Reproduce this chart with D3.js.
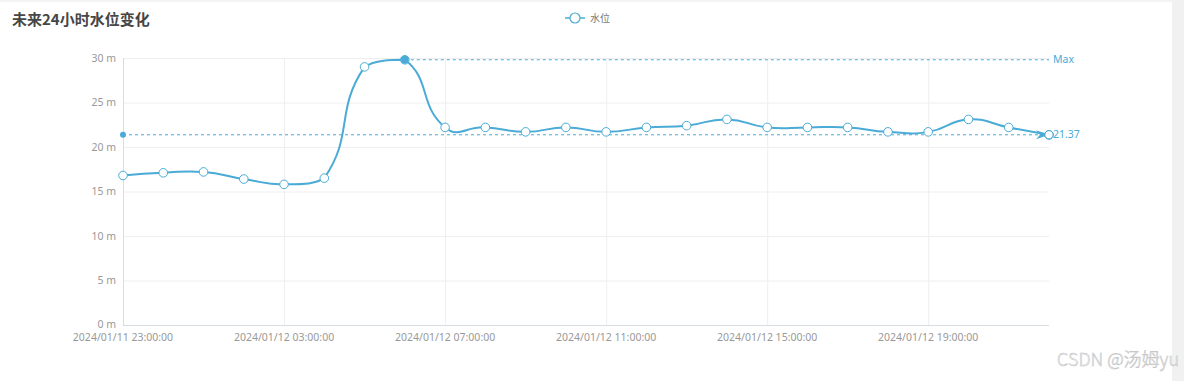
<!DOCTYPE html>
<html>
<head>
<meta charset="utf-8">
<script src="https://cdn.jsdelivr.net/npm/d3@7/dist/d3.min.js"></script>
<style>
  html, body { margin: 0; padding: 0; background: #fff; }
  svg { display: block; }
</style>
</head>
<body>
<svg id="chart" width="1184" height="381"></svg>
<script>
// ---- data ----
const categories = [
  "2024/01/11 23:00:00", "2024/01/12 00:00:00", "2024/01/12 01:00:00", "2024/01/12 02:00:00",
  "2024/01/12 03:00:00", "2024/01/12 04:00:00", "2024/01/12 05:00:00", "2024/01/12 06:00:00",
  "2024/01/12 07:00:00", "2024/01/12 08:00:00", "2024/01/12 09:00:00", "2024/01/12 10:00:00",
  "2024/01/12 11:00:00", "2024/01/12 12:00:00", "2024/01/12 13:00:00", "2024/01/12 14:00:00",
  "2024/01/12 15:00:00", "2024/01/12 16:00:00", "2024/01/12 17:00:00", "2024/01/12 18:00:00",
  "2024/01/12 19:00:00", "2024/01/12 20:00:00", "2024/01/12 21:00:00", "2024/01/12 22:00:00"
];
const waterLevel = [
  16.8, 17.1, 17.2, 16.4, 15.8, 16.5, 29.0, 29.8,
  22.2, 22.2, 21.7, 22.2, 21.7, 22.2, 22.4, 23.1,
  22.2, 22.2, 22.2, 21.7, 21.7, 23.1, 22.2, 21.37
];
const yTicks = [0, 5, 10, 15, 20, 25, 30];
const seriesName = "水位";
const titleText = "未来24小时水位变化";

(function () {
// ---- layout ----
const svg = d3.select("#chart");
const W = 1184, H = 381;
const pL = 123, pR = 1049, pT = 58, pB = 325;
const color = "#4aabd6";
const labelColor = "#999";
const font = "'Noto Sans', 'Microsoft YaHei', sans-serif";

// page decorations
svg.append("rect").attr("x", 1172).attr("y", 0).attr("width", 12).attr("height", H).attr("fill", "#f1f1f1");
svg.append("rect").attr("x", 0).attr("y", 0).attr("width", 1172).attr("height", 2).attr("fill", "#f4f4f4");

const x = d3.scalePoint().domain(categories).range([pL, pR]);
const y = d3.scaleLinear().domain([0, 30]).range([pB, pT]);

// horizontal grid
svg.append("g").selectAll("line").data(yTicks.filter(d => d > 0)).join("line")
  .attr("x1", pL).attr("x2", pR)
  .attr("y1", d => y(d) + 0.5).attr("y2", d => y(d) + 0.5)
  .attr("stroke", "#eeeeee").attr("stroke-width", 1);

// vertical grid at labeled categories
const labeled = categories.filter((d, i) => i % 4 === 0);
svg.append("g").selectAll("line").data(labeled.slice(1)).join("line")
  .attr("x1", d => x(d) + 0.5).attr("x2", d => x(d) + 0.5)
  .attr("y1", pT).attr("y2", pB)
  .attr("stroke", "#eeeeee").attr("stroke-width", 1);

// axes lines
svg.append("line").attr("x1", pL + 0.5).attr("x2", pL + 0.5).attr("y1", pT).attr("y2", pB)
  .attr("stroke", "#d6dde3").attr("stroke-width", 1);
svg.append("line").attr("x1", pL).attr("x2", pR).attr("y1", pB + 0.5).attr("y2", pB + 0.5)
  .attr("stroke", "#d6dde3").attr("stroke-width", 1);

// y labels
svg.append("g").selectAll("text").data(yTicks).join("text")
  .attr("x", pL - 7).attr("y", d => y(d) - (d === 0 ? 1 : 0))
  .attr("dy", "0.35em").attr("text-anchor", "end")
  .attr("font-family", font).attr("font-size", 10.5).attr("fill", labelColor)
  .text(d => d + " m");

// x labels
svg.append("g").selectAll("text").data(labeled).join("text")
  .attr("x", d => x(d)).attr("y", pB + 12)
  .attr("dy", "0.35em").attr("text-anchor", "middle")
  .attr("font-family", font).attr("font-size", 10.5).attr("fill", labelColor)
  .text(d => d);

// title
svg.append("text").attr("x", 12).attr("y", 20).attr("dy", "0.35em")
  .attr("font-family", "'Noto Sans CJK SC', sans-serif").attr("font-weight", "bold")
  .attr("font-size", 15).attr("fill", "#464646").text(titleText);

// legend
const lgx = 575, lgy = 18;
svg.append("line").attr("x1", lgx - 10).attr("x2", lgx + 10).attr("y1", lgy).attr("y2", lgy)
  .attr("stroke", color).attr("stroke-width", 1.5);
svg.append("circle").attr("cx", lgx).attr("cy", lgy).attr("r", 5)
  .attr("fill", "#fff").attr("stroke", color).attr("stroke-width", 1.2);
svg.append("text").attr("x", lgx + 15).attr("y", lgy).attr("dy", "0.35em")
  .attr("font-family", "'Noto Sans CJK SC', sans-serif").attr("font-size", 10).attr("fill", "#777")
  .text(seriesName);

// ECharts-4 style smooth curve
function EchartsSmooth(context) { this._context = context; }
EchartsSmooth.prototype = {
  areaStart() {}, areaEnd() {},
  lineStart() { this._pts = []; },
  point(px, py) { this._pts.push([+px, +py]); },
  lineEnd() {
    const p = this._pts, c = this._context, s = 0.5;
    if (!p.length) return;
    const minX = d3.min(p, d => d[0]), maxX = d3.max(p, d => d[0]);
    const minY = d3.min(p, d => d[1]), maxY = d3.max(p, d => d[1]);
    const clamp = q => [Math.max(minX, Math.min(maxX, q[0])), Math.max(minY, Math.min(maxY, q[1]))];
    c.moveTo(p[0][0], p[0][1]);
    let cp0 = p[0].slice();
    let v = [0, 0];
    for (let i = 1; i < p.length; i++) {
      const cur = p[i], prev = p[i - 1], next = p[i + 1];
      let cp1, ratio = 0.5;
      if (!next) {
        cp1 = cur.slice();
      } else {
        v = [next[0] - prev[0], next[1] - prev[1]];
        const l0 = Math.hypot(cur[0] - prev[0], cur[1] - prev[1]);
        const l1 = Math.hypot(next[0] - cur[0], next[1] - cur[1]);
        ratio = l1 / (l0 + l1);
        cp1 = [cur[0] - v[0] * s * (1 - ratio), cur[1] - v[1] * s * (1 - ratio)];
      }
      cp0 = clamp(cp0); cp1 = clamp(cp1);
      c.bezierCurveTo(cp0[0], cp0[1], cp1[0], cp1[1], cur[0], cur[1]);
      cp0 = [cur[0] + v[0] * s * ratio, cur[1] + v[1] * s * ratio];
    }
  }
};
const smoothCurve = ctx => new EchartsSmooth(ctx);

const data = categories.map((c, i) => ({ c, v: waterLevel[i] }));
const line = d3.line().x(d => x(d.c)).y(d => y(d.v)).curve(smoothCurve);

svg.append("path").datum(data).attr("d", line)
  .attr("fill", "none").attr("stroke", color).attr("stroke-width", 2);

// mark lines
const meanVal = d3.mean(waterLevel);
const maxIdx = d3.maxIndex(waterLevel);
const maxVal = waterLevel[maxIdx];
const mk = svg.append("g");
mk.append("line").attr("x1", pL).attr("x2", pR - 6).attr("y1", y(meanVal)).attr("y2", y(meanVal))
  .attr("stroke", color).attr("stroke-width", 1).attr("stroke-dasharray", "3,3");
mk.append("line").attr("x1", x(categories[maxIdx])).attr("x2", pR).attr("y1", y(maxVal)).attr("y2", y(maxVal))
  .attr("stroke", color).attr("stroke-width", 1).attr("stroke-dasharray", "3,3");

// data symbols
svg.append("g").selectAll("circle").data(data).join("circle")
  .attr("cx", d => x(d.c)).attr("cy", d => y(d.v)).attr("r", 4.3)
  .attr("fill", "#fff").attr("stroke", color).attr("stroke-width", 1);

// mark line end symbols
const my = y(meanVal);
mk.append("path")
  .attr("d", `M${pR},${my} L${pR - 13},${my - 4.5} L${pR - 9},${my} L${pR - 13},${my + 4.5} Z`)
  .attr("fill", color);
svg.append("circle").attr("cx", pL).attr("cy", my).attr("r", 3).attr("fill", color);
svg.append("circle").attr("cx", x(categories[maxIdx])).attr("cy", y(maxVal)).attr("r", 4).attr("fill", color);
svg.append("circle").attr("cx", pR).attr("cy", y(waterLevel[waterLevel.length - 1])).attr("r", 4.3)
  .attr("fill", "none").attr("stroke", color).attr("stroke-width", 1);

svg.append("text").attr("x", pR + 4).attr("y", y(maxVal)).attr("dy", "0.35em")
  .attr("font-family", font).attr("font-size", 10.5).attr("fill", color).text("Max");
svg.append("text").attr("x", pR + 4).attr("y", my).attr("dy", "0.35em")
  .attr("font-family", font).attr("font-size", 10.5).attr("fill", color).text(meanVal.toFixed(2));

// watermark
svg.append("text").attr("x", 1179).attr("y", 360).attr("dy", "0.35em").attr("text-anchor", "end")
  .attr("font-family", "'Noto Sans CJK SC', sans-serif").attr("font-weight", 300).attr("font-size", 18)
  .attr("fill", "#fbfbfb").attr("stroke", "#bdbdbd").attr("stroke-width", 0.5)
  .text("CSDN @汤姆yu");
})();
</script>
</body>
</html>
